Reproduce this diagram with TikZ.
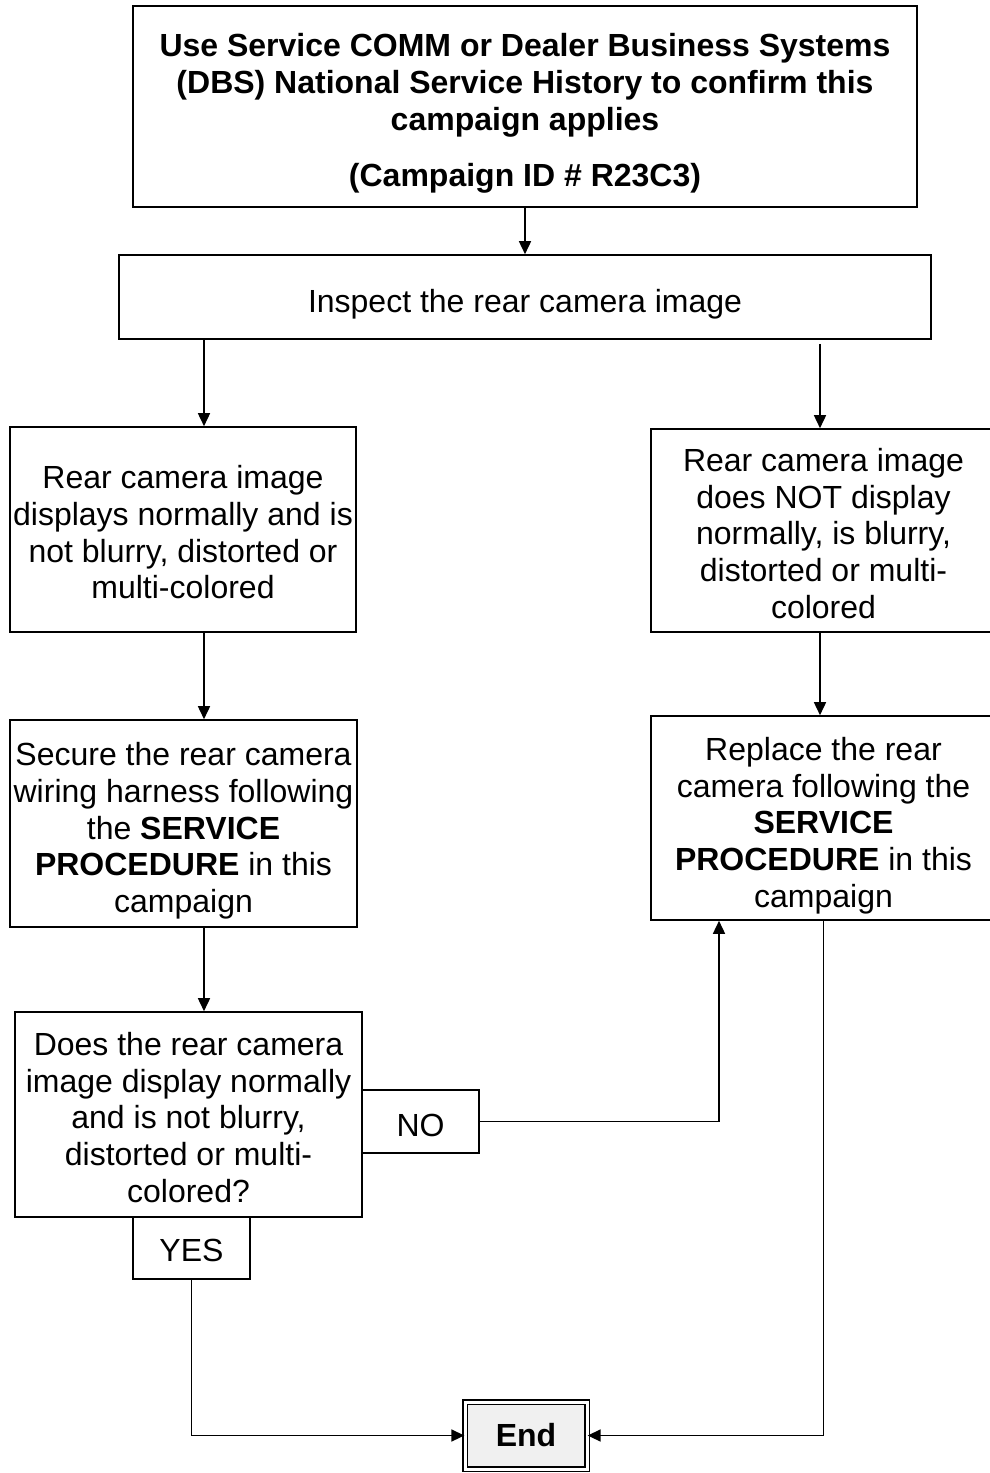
\documentclass[tikz,border=0pt]{standalone}
\usepackage{fontspec}
\setmainfont{Liberation Sans}
\usetikzlibrary{arrows.meta}
\tikzstyle{flow box}=[
    draw,
    line width = 1.6pt,
    rectangle,
    inner sep = 0pt
]
\tikzstyle{flow text}=[
    align = center,
    inner sep = 0pt,
    font = \fontsize{32}{36.7}\selectfont
]
\tikzstyle{flow arrow}=[
    line width = 1.6pt,
    -{Triangle[length=13pt,width=12pt]}
]

\begin{document}
\begin{tikzpicture}[x=1pt, y=-1pt, tag/.style = {flow box, minimum width=117pt, minimum height=62pt}]
        \useasboundingbox (0,0) rectangle (990,1473);
        \coordinate (lcol) at (204,0);
        \coordinate (rcol) at (820,0);
        \coordinate (nocol) at (719,0);

        \node[flow box, minimum width=784pt, minimum height=201pt, label={[flow text, font=\fontsize{32}{36.7}\selectfont\bfseries, yshift=-7pt]center:{Use Service COMM or Dealer Business Systems\\(DBS) National Service History to confirm this\\campaign applies\\[20pt](Campaign ID \# R23C3)}}] (confirm) at (525,106.5) {};
        \node[flow box, minimum width=812pt, minimum height=84pt, label={[flow text, yshift=-7pt]center:{Inspect the rear camera image}}] (inspect) at (525,297) {};
        \node[flow box, minimum width=346pt, minimum height=205pt, label={[flow text, yshift=-3pt]center:{Rear camera image\\displays normally and is\\not blurry, distorted or\\multi-colored}}] (okimage) at (183,529.5) {};
        \node[flow box, minimum width=345pt, minimum height=203pt, label={[flow text, yshift=-3pt]center:{Rear camera image\\does NOT display\\normally, is blurry,\\distorted or multi-\\colored}}] (badimage) at (823.5,530.5) {};
        \node[flow box, minimum width=347pt, minimum height=207pt, label={[flow text, yshift=-7.5pt]center:{Secure the rear camera\\wiring harness following\\the \textbf{SERVICE}\\\textbf{PROCEDURE} in this\\campaign}}] (secure) at (183.5,823.5) {};
        \node[flow box, minimum width=345pt, minimum height=204pt, label={[flow text, yshift=-7.5pt]center:{Replace the rear\\camera following the\\\textbf{SERVICE}\\\textbf{PROCEDURE} in this\\campaign}}] (replace) at (823.5,818) {};
        \node[flow box, minimum width=347pt, minimum height=205pt, label={[flow text, yshift=-3pt]center:{Does the rear camera\\image display normally\\and is not blurry,\\distorted or multi-\\colored?}}] (question) at (188.5,1114.5) {};
        \node[tag, minimum height=63pt, label={[flow text, yshift=-4pt]center:NO}] (no) at (420.5,1121.5) {};
        \node[tag, label={[flow text, yshift=-2pt]center:YES}] (yes) at (191.5,1248) {};
        \node[flow box, line width=1.3pt, double, double distance=3pt, fill=gray!12, minimum width=122pt, minimum height=67pt, label={[flow text, font=\fontsize{32}{36.7}\selectfont\bfseries]center:End}] (end) at (526,1435.5) {};

        \draw[flow arrow] (confirm) -- (inspect);
        \draw[flow arrow] (inspect.south -| lcol) -- (okimage.north -| lcol);
        \draw[flow arrow] ([yshift=-4pt]inspect.south -| rcol) -- (badimage.north -| rcol);
        \draw[flow arrow] (okimage.south -| lcol) -- (secure.north -| lcol);
        \draw[flow arrow] (badimage.south -| rcol) -- (replace.north -| rcol);
        \draw[flow arrow] (secure.south -| lcol) -- (question.north -| lcol);
        \draw[flow arrow] (no.east) -| (replace.south -| nocol);
        \draw[flow arrow] (yes.south) |- (end.west);
        \draw[flow arrow] (replace.south) |- (end.east);

    \end{tikzpicture}
\end{document}
